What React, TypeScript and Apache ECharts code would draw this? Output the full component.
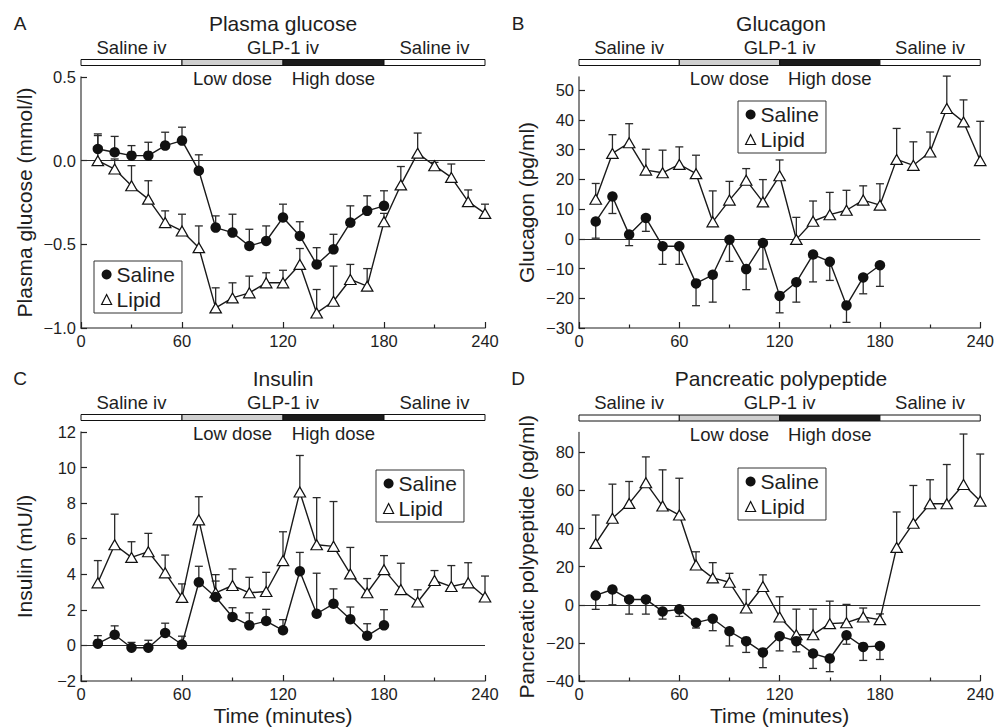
import React, { useEffect, useRef } from "react";
import * as echarts from "echarts";

const TIME_ALL = [10, 20, 30, 40, 50, 60, 70, 80, 90, 100, 110, 120, 130, 140, 150, 160, 170, 180, 190, 200, 210, 220, 230, 240];
const TIME_SALINE = TIME_ALL.slice(0, 18);

const X_TICK_LABELS = [0, 60, 120, 180, 240];

// Panel A: Plasma glucose (mmol/l)
const A_SALINE = [0.07, 0.05, 0.03, 0.03, 0.09, 0.12, -0.06, -0.40, -0.43, -0.51, -0.48, -0.34, -0.45, -0.62, -0.53, -0.37, -0.30, -0.27];
const A_SALINE_ERR = [0.09, 0.095, 0.06, 0.08, 0.08, 0.08, 0.095, 0.07, 0.11, 0.10, 0.09, 0.08, 0.085, 0.10, 0.09, 0.10, 0.09, 0.09];
const A_LIPID = [0.0, -0.05, -0.15, -0.23, -0.37, -0.42, -0.52, -0.88, -0.82, -0.79, -0.73, -0.73, -0.62, -0.91, -0.84, -0.71, -0.75, -0.365, -0.145, 0.045, -0.03, -0.10, -0.245, -0.315];
const A_LIPID_ERR = [0.15, 0.06, 0.12, 0.11, 0.07, 0.10, 0.13, 0.12, 0.09, 0.10, 0.06, 0.075, 0.095, 0.14, 0.21, 0.09, 0.105, 0.05, 0.11, 0.12, 0.02, 0.08, 0.07, 0.055];
const A_Y_TICKS = [-1.0, -0.5, 0.0, 0.5];

// Panel B: Glucagon (pg/ml)
const B_SALINE = [5.8, 14.2, 1.4, 7.0, -2.5, -2.5, -15.0, -12.1, -0.3, -10.2, -1.4, -19.2, -14.6, -5.3, -7.7, -22.4, -13.0, -8.9];
const B_SALINE_ERR = [5.6, 5.7, 3.7, 4.5, 6.1, 6.1, 7.5, 9.2, 7.3, 6.9, 8.8, 5.7, 6.7, 9.2, 6.3, 5.7, 5.5, 7.1];
const B_LIPID = [13.3, 28.7, 32.3, 23.1, 22.2, 25.0, 21.9, 5.7, 13.0, 19.7, 12.4, 21.2, -0.2, 5.9, 8.1, 9.6, 13.0, 11.3, 26.7, 24.7, 29.2, 43.8, 39.3, 26.3];
const B_LIPID_ERR = [5.3, 6.3, 6.4, 7.0, 7.6, 5.9, 6.2, 10.4, 6.3, 3.9, 7.5, 5.3, 7.4, 6.8, 7.5, 6.7, 4.8, 7.2, 10.4, 7.9, 6.7, 10.9, 7.4, 13.2];
const B_Y_TICKS = [-30, -20, -10, 0, 10, 20, 30, 40, 50];

// Panel C: Insulin (mU/l)
const C_SALINE = [0.1, 0.6, -0.13, -0.13, 0.7, 0.05, 3.55, 2.72, 1.6, 1.13, 1.37, 0.85, 4.17, 1.78, 2.34, 1.47, 0.54, 1.13];
const C_SALINE_ERR = [0.45, 0.5, 0.3, 0.42, 0.55, 0.47, 0.9, 0.9, 0.52, 0.7, 0.66, 0.6, 1.06, 2.28, 0.84, 0.69, 0.68, 0.88];
const C_LIPID = [3.52, 5.66, 4.95, 5.27, 4.08, 2.70, 7.06, 2.96, 3.37, 2.96, 3.03, 4.77, 8.63, 5.66, 5.57, 4.02, 2.96, 4.26, 3.14, 2.44, 3.65, 3.31, 3.52, 2.72];
const C_LIPID_ERR = [1.25, 1.72, 0.88, 1.03, 1.0, 0.76, 1.3, 1.02, 0.93, 0.87, 1.08, 1.62, 2.05, 2.65, 2.52, 1.49, 0.8, 0.79, 1.48, 0.69, 0.56, 1.18, 1.13, 1.18];
const C_Y_TICKS = [-2, 0, 2, 4, 6, 8, 10, 12];

// Panel D: Pancreatic polypeptide (pg/ml)
const D_SALINE = [4.9, 8.0, 2.8, 2.8, -3.5, -2.4, -9.4, -7.3, -13.9, -19.1, -25.0, -16.5, -19.1, -25.6, -28.2, -16.0, -22.1, -21.6];
const D_SALINE_ERR = [7.3, 8.0, 7.7, 7.7, 4.0, 3.7, 2.8, 6.3, 7.7, 5.9, 8.0, 7.7, 5.6, 7.8, 6.9, 4.7, 7.1, 7.1];
const D_LIPID = [32.2, 45.4, 53.2, 64.0, 51.8, 47.1, 20.9, 14.1, 11.8, -1.7, 9.6, -6.4, -15.7, -15.7, -9.9, -9.4, -6.4, -7.8, 30.1, 42.8, 53.0, 53.0, 63.1, 54.4];
const D_LIPID_ERR = [14.9, 17.9, 11.5, 13.6, 19.0, 19.3, 6.9, 8.0, 4.7, 9.7, 6.1, 10.6, 13.4, 13.4, 11.8, 9.6, 4.7, 3.0, 18.6, 19.8, 12.6, 20.6, 26.5, 24.7];
const D_Y_TICKS = [-40, -20, 0, 20, 40, 60, 80];

// Infusion phases (minutes)
const PHASES: [number, number, string][] = [
  [0, 60, "#ffffff"],
  [60, 120, "#cfcfcf"],
  [120, 180, "#1c1c1c"],
  [180, 240, "#ffffff"],
];
const PHASE_LABELS_ABOVE: [number, string][] = [
  [30, "Saline iv"],
  [120, "GLP-1 iv"],
  [210, "Saline iv"],
];
const PHASE_LABELS_BELOW: [number, string][] = [
  [90, "Low dose"],
  [150, "High dose"],
];

const FONT = "'Liberation Sans', Arial, Helvetica, sans-serif";
const INK = "#1e1e1e";

type Panel = {
  letter: string;
  title: string;
  yName: string;
  yMin: number;
  yMax: number;
  yTicks: number[];
  decimals: number;
  saline: number[];
  salineErr: number[];
  salineDir: number;
  lipid: number[];
  lipidErr: number[];
  grid: { left: number; top: number; width: number; height: number };
  legend: { left: number; top: number };
  yNameGap: number;
  showXName: boolean;
};

const PANELS: Panel[] = [
  {
    letter: "A", title: "Plasma glucose", yName: "Plasma glucose (mmol/l)",
    yMin: -1, yMax: 0.5, yTicks: A_Y_TICKS, decimals: 1,
    saline: A_SALINE, salineErr: A_SALINE_ERR, salineDir: 1,
    lipid: A_LIPID, lipidErr: A_LIPID_ERR,
    grid: { left: 81, top: 77, width: 404, height: 251 },
    legend: { left: 94, top: 261 }, yNameGap: 46, showXName: false,
  },
  {
    letter: "B", title: "Glucagon", yName: "Glucagon (pg/ml)",
    yMin: -30, yMax: 54.4, yTicks: B_Y_TICKS, decimals: 0,
    saline: B_SALINE, salineErr: B_SALINE_ERR, salineDir: -1,
    lipid: B_LIPID, lipidErr: B_LIPID_ERR,
    grid: { left: 579, top: 77, width: 404, height: 251 },
    legend: { left: 738, top: 101 }, yNameGap: 42, showXName: false,
  },
  {
    letter: "C", title: "Insulin", yName: "Insulin (mU/l)",
    yMin: -2, yMax: 12, yTicks: C_Y_TICKS, decimals: 0,
    saline: C_SALINE, salineErr: C_SALINE_ERR, salineDir: 1,
    lipid: C_LIPID, lipidErr: C_LIPID_ERR,
    grid: { left: 81, top: 432, width: 404, height: 251 },
    legend: { left: 376, top: 470 }, yNameGap: 46, showXName: true,
  },
  {
    letter: "D", title: "Pancreatic polypeptide", yName: "Pancreatic polypeptide (pg/ml)",
    yMin: -40, yMax: 90.4, yTicks: D_Y_TICKS, decimals: 0,
    saline: D_SALINE, salineErr: D_SALINE_ERR, salineDir: -1,
    lipid: D_LIPID, lipidErr: D_LIPID_ERR,
    grid: { left: 579, top: 432.5, width: 404, height: 250.5 },
    legend: { left: 738, top: 468 }, yNameGap: 42, showXName: true,
  },
];

function fmt(v: number, decimals: number) {
  const s = Math.abs(v).toFixed(decimals);
  return v < -1e-9 ? "\u2212" + s : s;
}

function errRender(dir: number) {
  return (params: any, api: any) => {
    const x = api.value(0);
    const y = api.value(1);
    const e = api.value(2);
    const p0 = api.coord([x, y]);
    const p1 = api.coord([x, y + dir * e]);
    const hw = 4;
    return {
      type: "group",
      children: [
        { type: "line", shape: { x1: p0[0], y1: p0[1], x2: p1[0], y2: p1[1] }, style: { stroke: "#2a2a2a", lineWidth: 1.3 } },
        { type: "line", shape: { x1: p1[0] - hw, y1: p1[1], x2: p1[0] + hw, y2: p1[1] }, style: { stroke: "#2a2a2a", lineWidth: 1.3 } },
      ],
    };
  };
}

function phaseRender(params: any, api: any) {
  const x0 = api.coord([api.value(0), 0])[0];
  const x1 = api.coord([api.value(1), 0])[0];
  const top = params.coordSys.y;
  const fill = PHASES[params.dataIndex][2];
  return {
    type: "rect",
    shape: { x: x0, y: top - 17.5, width: x1 - x0, height: 6 },
    style: { fill, stroke: "#111", lineWidth: 1 },
  };
}

function labelRender(offset: number, labels: [number, string][]) {
  return (params: any, api: any) => {
    const px = api.coord([api.value(0), 0])[0];
    const top = params.coordSys.y;
    const text = labels[params.dataIndex][1];
    return {
      type: "text",
      x: px,
      y: top + offset,
      style: {
        text,
        font: `18.5px ${FONT}`,
        fill: INK,
        textFill: INK,
        align: "center",
        textAlign: "center",
        verticalAlign: "middle",
        textVerticalAlign: "middle",
      },
    };
  };
}

function buildOption() {
  const grid: any[] = [];
  const xAxis: any[] = [];
  const yAxis: any[] = [];
  const series: any[] = [];
  const legend: any[] = [];
  const graphic: any[] = [];

  PANELS.forEach((p, i) => {
    grid.push({ ...p.grid, containLabel: false });
    xAxis.push({
      type: "value",
      gridIndex: i,
      min: 0,
      max: 240,
      interval: 60,
      name: p.showXName ? "Time (minutes)" : "",
      nameLocation: "middle",
      nameGap: 24,
      nameTextStyle: { fontFamily: FONT, fontSize: 21, color: INK },
      axisLine: { show: true, onZero: false, lineStyle: { color: "#6a6a6a", width: 1.6 } },
      axisTick: { show: true, inside: true, length: 6, lineStyle: { color: "#222", width: 1.2 } },
      minorTick: { show: true, splitNumber: 2, length: 3.5, lineStyle: { color: "#222", width: 1.2 } },
      axisLabel: {
        fontFamily: FONT, fontSize: 16.5, color: INK, margin: 4,
        customValues: X_TICK_LABELS,
      },
      splitLine: { show: false },
      minorSplitLine: { show: false },
    });
    yAxis.push({
      type: "value",
      gridIndex: i,
      min: p.yMin,
      max: p.yMax,
      name: p.yName,
      nameLocation: "middle",
      nameGap: p.yNameGap,
      nameTextStyle: { fontFamily: FONT, fontSize: 21, color: INK },
      axisLine: { show: true, lineStyle: { color: "#6a6a6a", width: 1.6 } },
      axisTick: { show: true, inside: true, length: 6, lineStyle: { color: "#222", width: 1.2 }, customValues: p.yTicks },
      axisLabel: {
        fontFamily: FONT, fontSize: 16.5, color: INK, margin: 5,
        customValues: p.yTicks,
        formatter: (v: number) => fmt(v, p.decimals),
      },
      splitLine: { show: false },
    });

    const salineData = TIME_SALINE.map((t, k) => [t, p.saline[k]]);
    const lipidData = TIME_ALL.map((t, k) => [t, p.lipid[k]]);

    // infusion phase band
    series.push({
      type: "custom",
      name: "phase" + i,
      xAxisIndex: i,
      yAxisIndex: i,
      clip: false,
      silent: true,
      renderItem: phaseRender,
      data: PHASES.map((ph) => [ph[0], ph[1]]),
      encode: { x: [0, 1] },
      z: 1,
    });
    series.push({
      type: "custom",
      name: "phaseAbove" + i,
      xAxisIndex: i,
      yAxisIndex: i,
      clip: false,
      silent: true,
      renderItem: labelRender(-30, PHASE_LABELS_ABOVE),
      data: PHASE_LABELS_ABOVE.map((l) => [l[0]]),
      encode: { x: 0 },
      z: 1,
    });
    series.push({
      type: "custom",
      name: "phaseBelow" + i,
      xAxisIndex: i,
      yAxisIndex: i,
      clip: false,
      silent: true,
      renderItem: labelRender(1.8, PHASE_LABELS_BELOW),
      data: PHASE_LABELS_BELOW.map((l) => [l[0]]),
      encode: { x: 0 },
      z: 1,
    });

    // error bars
    series.push({
      type: "custom",
      name: "salineErr" + i,
      xAxisIndex: i,
      yAxisIndex: i,
      clip: false,
      silent: true,
      renderItem: errRender(p.salineDir),
      data: TIME_SALINE.map((t, k) => [t, p.saline[k], p.salineErr[k]]),
      encode: { x: 0, y: 1 },
      z: 2,
    });
    series.push({
      type: "custom",
      name: "lipidErr" + i,
      xAxisIndex: i,
      yAxisIndex: i,
      clip: false,
      silent: true,
      renderItem: errRender(1),
      data: TIME_ALL.map((t, k) => [t, p.lipid[k], p.lipidErr[k]]),
      encode: { x: 0, y: 1 },
      z: 2,
    });

    series.push({
      type: "line",
      name: "Saline",
      xAxisIndex: i,
      yAxisIndex: i,
      data: salineData,
      symbol: "circle",
      symbolSize: 10.5,
      showAllSymbol: true,
      itemStyle: { color: "#111", borderColor: "#111", borderWidth: 0 },
      lineStyle: { color: "#1a1a1a", width: 1.4 },
      emphasis: { disabled: true },
      z: 4,
      markLine: {
        silent: true,
        symbol: ["none", "none"],
        label: { show: false },
        lineStyle: { color: "#2a2a2a", width: 1, type: "solid" },
        emphasis: { disabled: true },
        data: [{ yAxis: 0 }],
        z: 1,
      },
    });
    series.push({
      type: "line",
      name: "Lipid",
      xAxisIndex: i,
      yAxisIndex: i,
      data: lipidData,
      symbol: "triangle",
      symbolSize: [11.5, 10],
      showAllSymbol: true,
      itemStyle: { color: "#ffffff", borderColor: "#111", borderWidth: 1.2 },
      lineStyle: { color: "#1a1a1a", width: 1.4 },
      emphasis: { disabled: true },
      z: 3,
    });

    legend.push({
      left: p.legend.left,
      top: p.legend.top,
      orient: "vertical",
      selectedMode: false,
      itemWidth: 10,
      itemHeight: 10,
      itemGap: 4,
      padding: [3, 7, 3, 7],
      borderColor: "#333",
      borderWidth: 1,
      borderRadius: 0,
      backgroundColor: "#fff",
      textStyle: { fontFamily: FONT, fontSize: 21, color: INK, padding: [0, 0, 0, 0] },
      data: [
        { name: "Saline", icon: "circle", itemStyle: { color: "#111" } },
        { name: "Lipid", icon: "triangle", itemStyle: { color: "#fff", borderColor: "#111", borderWidth: 1.2 } },
      ],
    });

    const cx = p.grid.left + p.grid.width / 2;
    const letterX = p.grid.left - 61;
    graphic.push({
      type: "text",
      x: letterX,
      y: p.grid.top - 54,
      style: {
        text: p.letter, font: `19px ${FONT}`, fill: INK,
        align: "center", verticalAlign: "middle", textAlign: "center", textVerticalAlign: "middle",
      },
    });
    graphic.push({
      type: "text",
      x: cx,
      y: p.grid.top - 54,
      style: {
        text: p.title, font: `21px ${FONT}`, fill: INK,
        align: "center", verticalAlign: "middle", textAlign: "center", textVerticalAlign: "middle",
      },
    });
  });

  return {
    animation: false,
    backgroundColor: "#ffffff",
    textStyle: { fontFamily: FONT },
    grid,
    xAxis,
    yAxis,
    legend,
    graphic,
    series,
  };
}

export default function App() {
  const ref = useRef<HTMLDivElement>(null);
  useEffect(() => {
    if (!ref.current) return;
    const chart = echarts.init(ref.current, null, { renderer: "svg" });
    chart.setOption(buildOption() as any);
    return () => chart.dispose();
  }, []);
  return (
    <div
      ref={ref}
      style={{ width: 997, height: 727, position: "absolute", left: 0, top: 0, background: "#fff" }}
    />
  );
}
